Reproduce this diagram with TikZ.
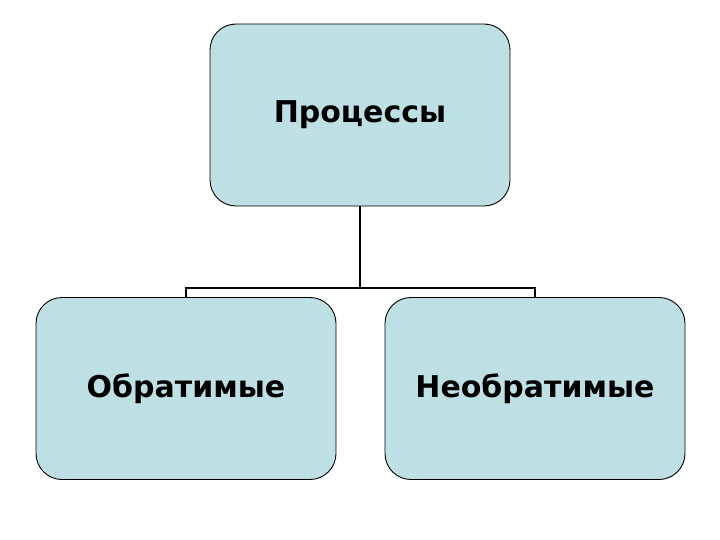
\documentclass[tikz,border=0pt]{standalone}
\usepackage{fontspec}
\setmainfont{DejaVu Sans}
\definecolor{boxfill}{HTML}{BEE0E4}
\begin{document}
\begin{tikzpicture}[x=1pt,y=-1pt,
  procbox/.style={draw=black,line width=0.9pt,fill=boxfill,rounded corners=26pt,
    minimum width=300pt,minimum height=182pt,inner sep=0pt,font=\fontsize{30}{36}\selectfont\bfseries},
  link/.style={draw=black,line width=1.6pt}]
\useasboundingbox (0,0) rectangle (720,540);
\node[procbox] (top) at (360,115) {Процессы};
\node[procbox] (left) at (186,388.5) {Обратимые};
\node[procbox] (right) at (535,388.5) {Необратимые};
\coordinate (j) at (360,288);
\draw[link] (top.south) -- (j);
\draw[link] (left.north) |- (j) -| (right.north);
\end{tikzpicture}
\end{document}
